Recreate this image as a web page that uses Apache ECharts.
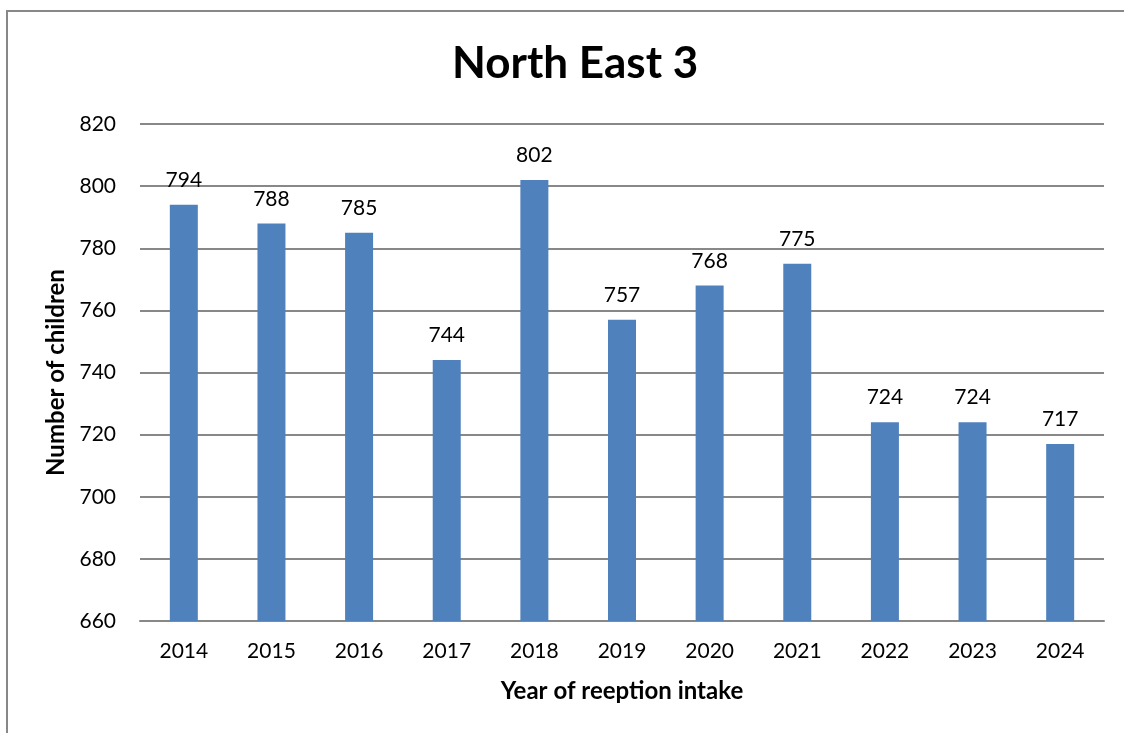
<!DOCTYPE html>
<html>
<head>
<meta charset="utf-8">
<script src="https://cdn.jsdelivr.net/npm/echarts@6/dist/echarts.min.js"></script>
<style>
  html, body { margin: 0; padding: 0; background: #fff; }
</style>
</head>
<body>
<div id="myChart" style="width:1124px;height:733px"></div>
<script>
var years = ['2014', '2015', '2016', '2017', '2018', '2019', '2020', '2021', '2022', '2023', '2024']
var children = [794, 788, 785, 744, 802, 757, 768, 775, 724, 724, 717]

var font = 'Lato, "Open Sans", sans-serif'

var myChart = echarts.init(document.getElementById('myChart'))

myChart.setOption({
  animation: false,
  textStyle: { fontFamily: font },
  title: {
    text: 'North East 3',
    left: 447,
    top: 37,
    textStyle: { fontSize: 44, fontWeight: 'bold', color: '#000', fontFamily: font }
  },
  graphic: [{
    type: 'rect',
    shape: { x: 7, y: 11, width: 1200, height: 800 },
    style: { fill: 'none', stroke: '#888', lineWidth: 2 },
    silent: true
  }],
  grid: { left: 140, right: 20, top: 124, bottom: 112 },
  xAxis: {
    type: 'category',
    data: years,
    name: 'Year of reeption intake',
    nameLocation: 'middle',
    nameGap: 58,
    nameTextStyle: { fontSize: 24, fontWeight: 'bold', color: '#000' },
    axisLine: { lineStyle: { color: '#888', width: 2 } },
    axisTick: { show: false },
    axisLabel: { fontSize: 21, color: '#000', margin: 20 }
  },
  yAxis: {
    type: 'value',
    min: 660,
    max: 820,
    interval: 20,
    name: 'Number of children',
    nameLocation: 'middle',
    nameGap: 68,
    nameTextStyle: { fontSize: 24, fontWeight: 'bold', color: '#000' },
    axisLine: { show: false },
    axisTick: { show: false },
    axisLabel: { fontSize: 21, color: '#000', margin: 24 },
    splitLine: { lineStyle: { color: '#888', width: 2 } }
  },
  series: [{
    type: 'bar',
    data: children,
    barWidth: 28,
    itemStyle: { color: '#4F81BD' },
    label: { show: true, position: 'top', fontSize: 21, color: '#000', distance: 14 }
  }]
})
</script>
</body>
</html>
